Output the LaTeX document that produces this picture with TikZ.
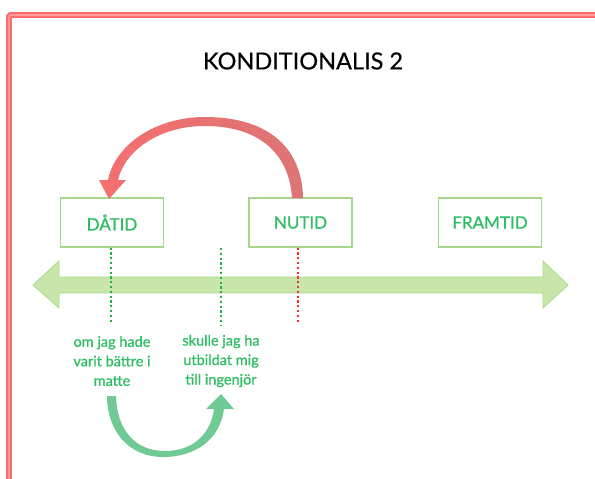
\documentclass[tikz,border=0pt]{standalone}
\usepackage{fontspec}
\setmainfont{Lato}
\newfontfamily\medfont{Lato}[FakeBold=0.9]
\newfontfamily\titlefont{Lato}[FakeBold=0.4]
\definecolor{framered}{HTML}{FF6B6B}
\definecolor{framepink}{HTML}{FF9D9D}
\definecolor{txtgreen}{HTML}{2EBD63}
\definecolor{boxgreen}{HTML}{A6D58C}
\definecolor{barfill}{HTML}{C8E6AA}
\definecolor{barline}{HTML}{A8D88C}
\definecolor{dotgreen}{HTML}{22B048}
\definecolor{dotred}{HTML}{F43030}
\definecolor{arrred}{HTML}{F56F6F}
\definecolor{arrreddark}{HTML}{DD7474}
\definecolor{arrgreen}{HTML}{6FCA93}
\tikzset{
  timebox/.style={draw=boxgreen, line width=1.3pt, fill=white, minimum width=103pt,
    minimum height=49pt, inner sep=0pt, text=txtgreen, font=\medfont\fontsize{17}{20}\selectfont},
  greentext/.style={text=txtgreen, align=center, font=\medfont\fontsize{14.5}{19.5}\selectfont, inner sep=0pt},
  dotline/.style={line width=2.5pt, dash pattern=on 2.2pt off 2.6pt},
}
\begin{document}
\begin{tikzpicture}[x=1pt,y=-1pt]
\useasboundingbox (0,0) rectangle (595,479);
\clip (0,0) rectangle (595,479);
% frame
\draw[framered, line width=2pt, double=framepink, double distance=1.8pt, rounded corners=1.5pt]
  (9,490) -- (9,15) -- (610,15);
% title
\node[font=\titlefont\fontsize{23.5}{28}\selectfont, inner sep=0pt] (title) at (303,61) {KONDITIONALIS 2};
% timeline bar
\path[fill=barfill, draw=barline, line width=0.8pt]
  (33,285) -- (59,261) -- (59,277) -- (543,277) -- (543,261) -- (568,285)
  -- (543,308) -- (543,293) -- (59,293) -- (59,308) -- cycle;
% boxes
\node[timebox] (dat) at (112,222.5) {DÅTID};
\node[timebox] (nut) at (300.5,222.5) {NUTID};
\node[timebox] (fram) at (490,222.5) {FRAMTID};
% dotted lines
\coordinate (d1) at (111,324);
\coordinate (d2t) at (221,248);
\coordinate (d2) at (221,325);
\coordinate (d3) at (298,324);
\draw[dotline, dotgreen] (dat.south -| d1) -- (d1);
\draw[dotline, dotgreen] (d2t) -- (d2);
\draw[dotline, dotred] (nut.south -| d3) -- (d3);
% texts
\node[greentext] (om) at (112,361) {om jag hade\\varit bättre i\\matte};
\node[greentext] (skulle) at (221,361) {skulle jag ha\\utbildat mig\\till ingenjör};
% red arrow
\shade[left color=arrred, right color=arrreddark]
  (292,198) -- (303,198)
  .. controls (302,145) and (265,117) .. (205,117)
  .. controls (155,117) and (115,145) .. (108,180)
  -- (99,180) -- (109,199) -- (126,180) -- (118,180)
  .. controls (125,150) and (160,126) .. (205,126)
  .. controls (255,126) and (289,150) .. (292,198) -- cycle;
% green arrow
\fill[arrgreen]
  (107,396) -- (116,396)
  .. controls (117,430) and (135,451) .. (165,451)
  .. controls (195,451) and (211,432) .. (214,409)
  -- (206,409) -- (221,394) -- (234,409) -- (224,409)
  .. controls (220,440) and (195,457) .. (163,457)
  .. controls (128,457) and (107,430) .. (107,396) -- cycle;
\end{tikzpicture}
\end{document}
